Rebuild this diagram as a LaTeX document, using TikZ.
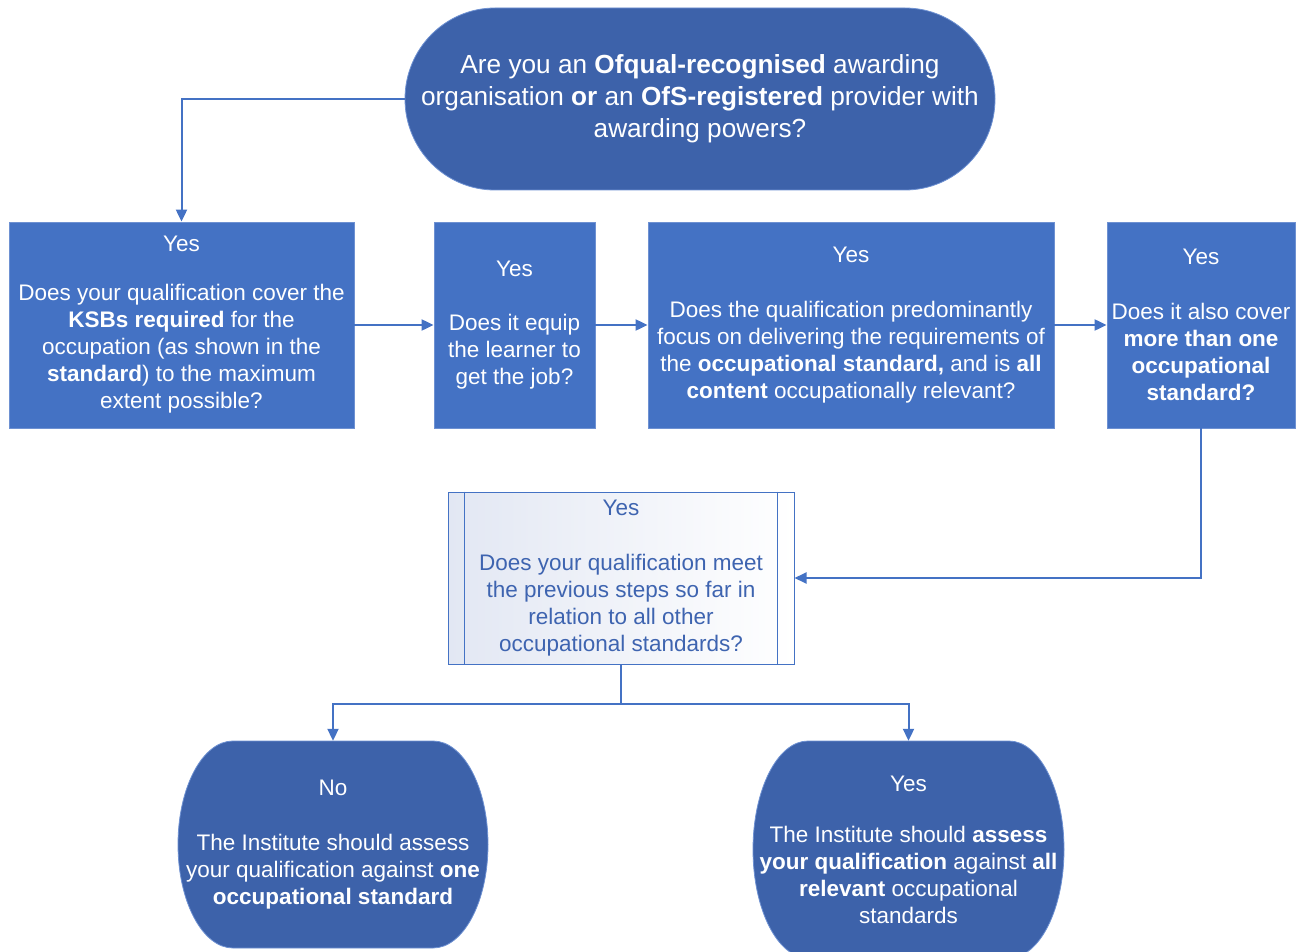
\documentclass[tikz,border=0pt]{standalone}
\usepackage{fontspec}
\setmainfont{Liberation Sans}
\usetikzlibrary{arrows.meta}
\definecolor{boxblue}{RGB}{68,114,196}
\definecolor{termblue}{RGB}{61,98,170}
\definecolor{edgeblue}{RGB}{110,145,210}
\definecolor{lineblue}{RGB}{68,114,196}
\definecolor{subtext}{RGB}{62,100,176}
\definecolor{subshade}{RGB}{226,231,243}
\begin{document}
\begin{tikzpicture}[x=1pt,y=-1pt,
  txt/.style={text=white, align=center, font=\fontsize{22.5}{27}\selectfont, inner sep=0pt},
  qbox/.style={txt, rectangle, fill=boxblue, draw=edgeblue, line width=0.8pt},
  termfill/.style={fill=termblue, draw=edgeblue, line width=0.8pt},
  conn/.style={draw=lineblue, line width=2pt, -{Triangle[length=12pt,width=11pt]}},
]
\useasboundingbox (0,0) rectangle (1309,952);

% terminator shapes
\path[termfill] (495,8) -- (905,8) .. controls (954.7,8) and (995,48.7) .. (995,99) .. controls (995,149.3) and (954.7,190) .. (905,190) -- (495,190) .. controls (445.3,190) and (405,149.3) .. (405,99) .. controls (405,48.7) and (445.3,8) .. (495,8) -- cycle;
\path[termfill] (233,741) -- (433,741) .. controls (463.4,741) and (488,787.3) .. (488,844.5) .. controls (488,901.7) and (463.4,948) .. (433,948) -- (233,948) .. controls (202.6,948) and (178,901.7) .. (178,844.5) .. controls (178,787.3) and (202.6,741) .. (233,741) -- cycle;
\path[termfill] (808,741) -- (1009,741) .. controls (1039.4,741) and (1064,789.6) .. (1064,849.5) .. controls (1064,909.4) and (1039.4,958) .. (1009,958) -- (808,958) .. controls (777.6,958) and (753,909.4) .. (753,849.5) .. controls (753,789.6) and (777.6,741) .. (808,741) -- cycle;

\node[txt, font=\fontsize{26.2}{31.8}\selectfont, minimum width=590pt, minimum height=182pt] (q0) at (700,99)
  {Are you an \textbf{Ofqual-recognised} awarding\\organisation \textbf{or} an \textbf{OfS-registered} provider with\\awarding powers?};

\node[qbox, minimum width=345pt, minimum height=206pt] (b1) at (181.5,325)
  {Yes\\[22pt]Does your qualification cover the\\\textbf{KSBs required} for the\\occupation (as shown in the\\\textbf{standard}) to the maximum\\extent possible?};
\node[qbox, minimum width=161pt, minimum height=206pt] (b2) at (514.5,325)
  {Yes\\[27pt]Does it equip\\the learner to\\get the job?};
\node[qbox, minimum width=406pt, minimum height=206pt] (b3) at (851,325)
  {Yes\\[28pt]Does the qualification predominantly\\focus on delivering the requirements of\\the \textbf{occupational standard,} and is \textbf{all}\\\textbf{content} occupationally relevant?};
\node[qbox, minimum width=188pt, minimum height=206pt] (b4) at (1201,325)
  {Yes\\[28pt]Does it also cover\\\textbf{more than one}\\\textbf{occupational}\\\textbf{standard?}};

\node[txt, text=subtext, draw=boxblue, line width=1pt, left color=subshade, right color=white, minimum width=346pt, minimum height=172pt] (sub) at (621,578)
  {Yes\\[28pt]Does your qualification meet\\the previous steps so far in\\relation to all other\\occupational standards?};
\draw[boxblue, line width=1pt] ([xshift=17pt]sub.north west) -- ([xshift=17pt]sub.south west);
\draw[boxblue, line width=1pt] ([xshift=-17pt]sub.north east) -- ([xshift=-17pt]sub.south east);

\node[txt, minimum width=310pt, minimum height=207pt] (no) at (333,844.5)
  {No\\[28pt]The Institute should assess\\your qualification against \textbf{one}\\\textbf{occupational standard}};
\node[txt, minimum width=311pt, minimum height=217pt] (yes) at (908.5,849.5)
  {Yes\\[24pt]The Institute should \textbf{assess}\\\textbf{your qualification} against \textbf{all}\\\textbf{relevant} occupational\\standards};

\coordinate (split) at (621,704);

\draw[conn] (q0.west) -| (b1.north);
\draw[conn] (b1.east) -- (b2.west);
\draw[conn] (b2.east) -- (b3.west);
\draw[conn] (b3.east) -- (b4.west);
\draw[conn] (b4.south) |- (sub.east);
\draw[conn] (sub.south) -- (split) -| (no.north);
\draw[conn] (split) -| (yes.north);
\end{tikzpicture}
\end{document}
